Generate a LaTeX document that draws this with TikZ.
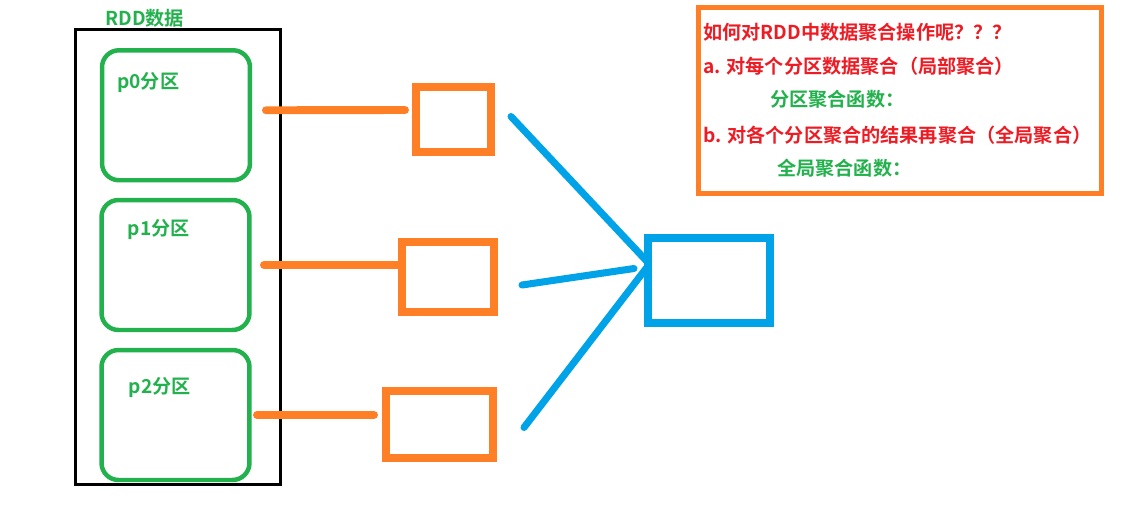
\documentclass[tikz,border=0pt]{standalone}
\usepackage{fontspec}
\newfontfamily\cjk{Noto Sans CJK SC}[BoldFont={Noto Sans CJK SC Bold}]
\definecolor{pgreen}{RGB}{34,177,76}
\definecolor{pred}{RGB}{237,28,36}
\definecolor{porange}{RGB}{255,127,39}
\definecolor{pblue}{RGB}{0,162,232}
\begin{document}
\begin{tikzpicture}[x=0.02cm,y=-0.02cm,
    txt/.style={inner sep=0pt, anchor=west, font=\cjk\bfseries\fontsize{10.9}{12}\selectfont},
    frame/.style={draw=black, line width=1.7pt, outer sep=0pt, minimum width=4.1cm, minimum height=9.11cm},
    part/.style={draw=pgreen, line width=2.55pt, rounded corners=0.34cm, outer sep=0pt, minimum width=2.96cm, minimum height=2.6cm},
    agg/.style={draw=porange, line width=4.5pt, outer sep=0pt},
    total/.style={draw=pblue, line width=4.5pt, outer sep=0pt, minimum width=2.44cm, minimum height=1.7cm},
    note/.style={draw=porange, line width=2.85pt, outer sep=0pt, minimum width=8.07cm, minimum height=3.71cm},
    oline/.style={porange, line width=4.5pt, line cap=round},
    bline/.style={pblue, line width=4pt, line cap=round}]
    \useasboundingbox (0,0) rectangle (1139,515);
    \node[frame] (rdd) at (178,257.25) {};
    \node[txt, text=pgreen] (rddlbl) at (105,18) {RDD数据};
    \node[part] (p0) at (176,115.25) {};
    \node[part] (p1) at (175.5,265) {};
    \node[part] (p2) at (175.5,415) {};
    \node[txt, text=pgreen] (p0lbl) at (117,83) {p0分区};
    \node[txt, text=pgreen] (p1lbl) at (127.5,230) {p1分区};
    \node[txt, text=pgreen] (p2lbl) at (128.5,388) {p2分区};
    \node[agg, minimum width=1.5cm, minimum height=1.3cm] (sq0) at (453.5,119.5) {};
    \node[agg, minimum width=1.84cm, minimum height=1.4cm] (sq1) at (448,277) {};
    \node[agg, minimum width=2.14cm, minimum height=1.34cm] (sq2) at (439.5,424.5) {};
    \node[total] (sum) at (709,280.5) {};
    \draw[oline] ([shift={(16,-5)}]p0.east) -- ([shift={(-11,-9.5)}]sq0.west);
    \draw[oline] ([shift={(14.5,0)}]p1.east) -- ([shift={(0,-12)}]sq1.west);
    \draw[oline] ([shift={(7.5,0)}]p2.east) -- ([shift={(-12,-9.5)}]sq2.west);
    \draw[bline] ([shift={(20,-3)}]sq0.east) -- ([shift={(0,-18)}]sum.west);
    \draw[bline] ([shift={(28,8)}]sq1.east) -- ([shift={(-14,-12)}]sum.west);
    \draw[bline] ([shift={(31,3)}]sq2.east) -- ([shift={(-2,-12)}]sum.west);
    \node[note] (box) at (900.2,100.4) {};
    \node[txt, text=pred] (q) at (703,32) {如何对RDD中数据聚合操作呢？？？};
    \node[txt, text=pred] (qa) at (703,66) {a. 对每个分区数据聚合（局部聚合）};
    \node[txt, text=pgreen] (fa) at (770,99) {分区聚合函数：};
    \node[txt, text=pred] (qb) at (703,135) {b. 对各个分区聚合的结果再聚合（全局聚合）};
    \node[txt, text=pgreen] (fb) at (777,168) {全局聚合函数：};
\end{tikzpicture}
\end{document}
